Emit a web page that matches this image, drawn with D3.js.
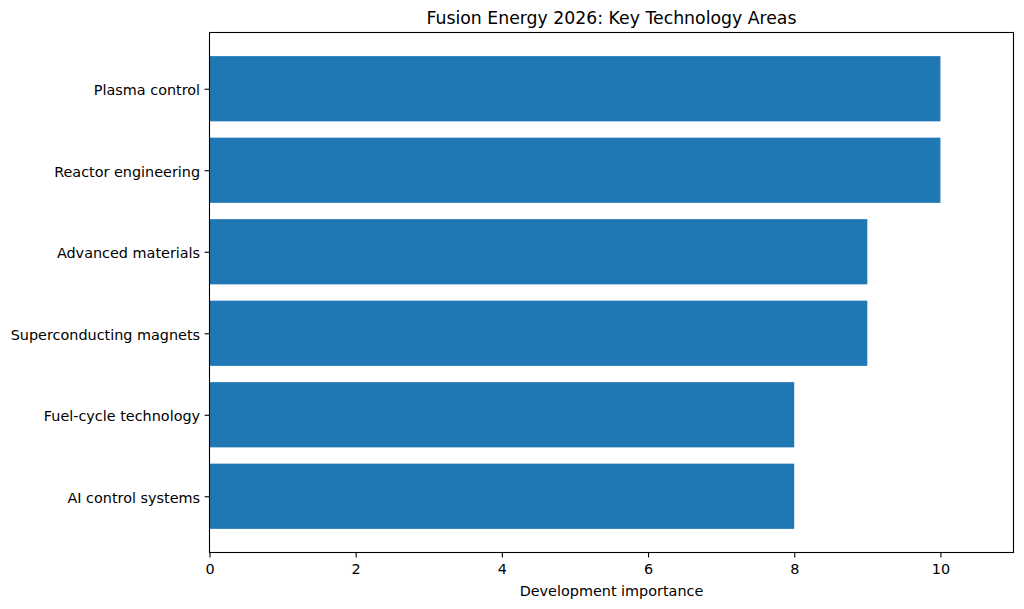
<!DOCTYPE html>
<html><head><meta charset="utf-8">
<script src="https://cdn.jsdelivr.net/npm/d3@7"></script>
<style>body{margin:0;background:#fff}svg{display:block}text{font-family:"DejaVu Sans",sans-serif;fill:#000}</style>
</head><body>
<script>
const categories = ["Plasma control","Reactor engineering","Advanced materials","Superconducting magnets","Fuel-cycle technology","AI control systems"];
const values = [10,10,9,9,8,8];
const xTicks = [0,2,4,6,8,10];
const title = "Fusion Energy 2026: Key Technology Areas";
const xLabel = "Development importance";

const W=1024,H=609;
const m={left:209.5,right:1013.5,top:32.5,bottom:552.5};
const svg=d3.select("body").append("svg").attr("width",W).attr("height",H);
const x=d3.scaleLinear().domain([0,11]).range([m.left,m.right]);
const n=categories.length;
const pad=0.05*(n-1+0.8);
const y=d3.scaleLinear().domain([-0.4-pad,n-1+0.4+pad]).range([m.top,m.bottom]);

svg.append("g").selectAll("rect").data(values).join("rect")
  .attr("x",x(0)).attr("y",(d,i)=>y(i-0.4)).attr("width",d=>x(d)-x(0))
  .attr("height",(d,i)=>y(i+0.4)-y(i-0.4)).attr("fill","#1f77b4");

const xa=svg.append("g").attr("transform",`translate(0,${m.bottom})`)
  .call(d3.axisBottom(x).tickValues(xTicks).tickSize(4.9).tickPadding(6.5).tickFormat(d3.format("d")));
xa.select(".domain").remove();
xa.selectAll("text").attr("font-size","14.4px").style("font-family","DejaVu Sans");
xa.selectAll("line").attr("stroke","#000").attr("stroke-width",1.1);

const ya=svg.append("g").attr("transform",`translate(${m.left},0)`)
  .call(d3.axisLeft(y).tickValues(d3.range(n)).tickSize(4.9).tickPadding(4.5).tickFormat(i=>categories[i]));
ya.select(".domain").remove();
ya.selectAll("text").attr("font-size","14.4px").attr("dy","0.4em").style("font-family","DejaVu Sans");
ya.selectAll("line").attr("stroke","#000").attr("stroke-width",1.1);

svg.append("rect").attr("x",m.left).attr("y",m.top).attr("width",m.right-m.left).attr("height",m.bottom-m.top)
  .attr("fill","none").attr("stroke","#000").attr("stroke-width",1.1);

svg.append("text").attr("x",(m.left+m.right)/2).attr("y",m.top-8.5).attr("text-anchor","middle")
  .attr("font-size","17.3px").text(title);
svg.append("text").attr("x",(m.left+m.right)/2).attr("y",596).attr("text-anchor","middle")
  .attr("font-size","14.4px").text(xLabel);
</script>
</body></html>
